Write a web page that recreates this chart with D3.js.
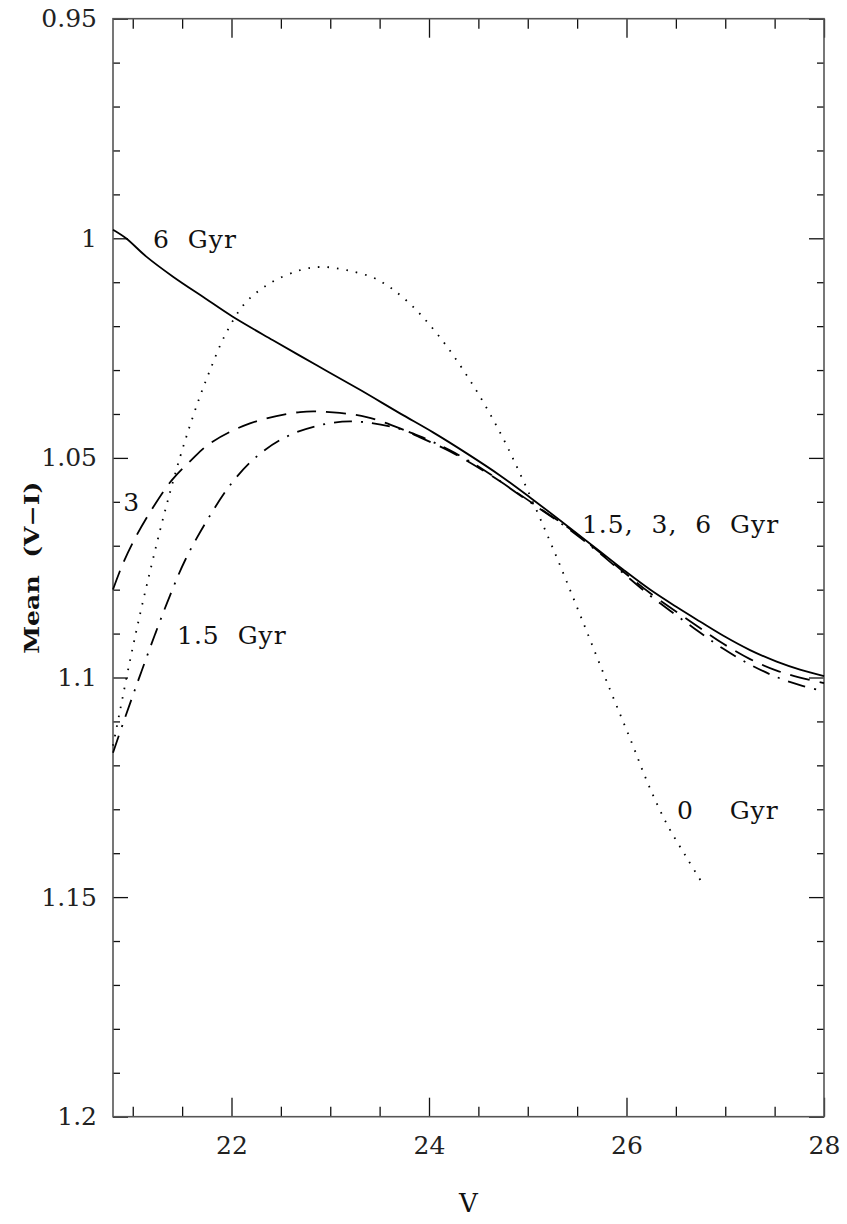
<!DOCTYPE html>
<html>
<head>
<meta charset="utf-8">
<script src="https://cdn.jsdelivr.net/npm/d3@7"></script>
<style>
  body { margin: 0; background: #fff; }
  text { font-family: "DejaVu Serif", serif; white-space: pre; }
</style>
</head>
<body>
<svg id="chart" width="847" height="1224"></svg>
<script>
// Mean (V-I) colour versus V magnitude for four population ages

// 0 Gyr (dotted)
const v0 = [20.8, 20.871, 20.972, 21.073, 21.175, 21.276, 21.377, 21.478, 21.58, 21.681, 21.782, 21.934, 22.137, 22.39, 22.694, 22.916,
            23.167, 23.47, 23.757, 24.078, 24.415, 24.719, 24.972, 25.256, 25.529, 25.833, 26.053, 26.218, 26.407, 26.61, 26.772];
const c0 = [1.11552, 1.10755, 1.09615, 1.08567, 1.07586, 1.06652, 1.05786, 1.04989, 1.04259, 1.03598, 1.03006, 1.02208, 1.01479, 1.01023, 1.00727, 1.00652,
            1.00727, 1.00932, 1.01388, 1.02163, 1.03234, 1.04419, 1.05604, 1.07063, 1.08567, 1.10276, 1.11484, 1.12418, 1.1333, 1.14104, 1.14697];

// 1.5 Gyr (dash-dot)
const v15 = [20.8, 20.922, 21.073, 21.225, 21.377, 21.529, 21.752, 22.015, 22.268, 22.542, 22.846, 23.2, 23.635, 23.909, 24.213, 24.547,
             24.888, 25.192, 25.394, 25.732, 25.965, 26.238, 26.508, 26.744, 26.977, 27.251, 27.521, 27.757, 28.0];
const c15 = [1.11712, 1.10914, 1.09957, 1.09022, 1.08134, 1.07336, 1.06424, 1.05536, 1.04943, 1.04533, 1.04282, 1.04168, 1.04298, 1.0451, 1.04829, 1.05262,
             1.05798, 1.06265, 1.06584, 1.07176, 1.07621, 1.08134, 1.08589, 1.08977, 1.09341, 1.09706, 1.09991, 1.10173, 1.1031];

// 3 Gyr (dashed)
const v3 = [20.8, 20.901, 21.033, 21.205, 21.394, 21.59, 21.782, 22.187, 22.694, 23.028, 23.369, 23.706, 23.909, 24.213, 24.547, 24.888,
            25.192, 25.394, 25.732, 25.965, 26.238, 26.508, 26.744, 26.977, 27.251, 27.521, 27.757, 28.0];
const c3 = [1.07997, 1.07404, 1.06789, 1.06128, 1.05513, 1.05057, 1.0467, 1.04214, 1.03956, 1.03963, 1.0407, 1.04328, 1.04533, 1.04852, 1.05285, 1.05786,
            1.06253, 1.06561, 1.07154, 1.07586, 1.08077, 1.0851, 1.08874, 1.09227, 1.09581, 1.09843, 1.10002, 1.10128];

// 6 Gyr (solid)
const v6 = [20.8, 20.932, 21.141, 21.408, 21.732, 22.005, 22.42, 22.863, 23.301, 23.706, 24.041, 24.382, 24.719, 25.023, 25.394,
            25.732, 25.965, 26.238, 26.508, 26.744, 26.977, 27.251, 27.521, 27.757, 28.0];
const c6 = [0.99804, 0.99998, 1.00424, 1.00875, 1.01365, 1.01775, 1.02322, 1.02892, 1.0345, 1.03986, 1.04419, 1.04897, 1.05399, 1.059, 1.06538,
            1.07131, 1.07541, 1.07997, 1.08396, 1.08726, 1.09045, 1.09376, 1.09638, 1.0982, 1.09968];

// axis ticks
const xMajorTicks = [22, 24, 26, 28];
const xTickLabels = ["22", "24", "26", "28"];
const xMinorTicks = [21, 21.5, 22.5, 23, 23.5, 24.5, 25, 25.5, 26.5, 27, 27.5];
const yMajorTicks = [0.95, 1.0, 1.05, 1.1, 1.15, 1.2];
const yTickLabels = ["0.95", "1", "1.05", "1.1", "1.15", "1.2"];
const yMinorTicks = [0.96, 0.97, 0.98, 0.99, 1.01, 1.02, 1.03, 1.04, 1.06, 1.07, 1.08, 1.09,
                     1.11, 1.12, 1.13, 1.14, 1.16, 1.17, 1.18, 1.19];

// curve annotations, anchored in data coordinates
const annotations = [
  { text: "6  Gyr", v: 21.205, c: 1.0023 },
  { text: "3", v: 20.905, c: 1.0622 },
  { text: "1.5  Gyr", v: 21.448, c: 1.0923 },
  { text: "1.5,  3,  6  Gyr", v: 25.549, c: 1.0672 },
  { text: "0    Gyr", v: 26.511, c: 1.1322 }
];

const svg = d3.select("#chart");
const frameLeft = 113, frameRight = 824, frameTop = 18.7, frameBottom = 1116.7;

const x = d3.scaleLinear().domain([20.8, 28]).range([frameLeft, frameRight]);
const y = d3.scaleLinear().domain([0.95, 1.2]).range([frameTop, frameBottom]);

function styleAxis(g) {
  g.select(".domain").remove();
  g.selectAll(".tick line").attr("stroke", "#111").attr("stroke-width", 1.3);
  g.selectAll(".tick text").attr("font-size", 25).attr("fill", "#222")
    .attr("font-family", "DejaVu Serif, serif");
}

// left axis
svg.append("g").attr("transform", `translate(${frameLeft},0)`)
  .call(d3.axisLeft(y).tickValues(yMajorTicks).tickFormat((d, i) => yTickLabels[i])
    .tickSizeInner(-15).tickSizeOuter(0).tickPadding(16))
  .call(styleAxis);
svg.append("g").attr("transform", `translate(${frameLeft},0)`)
  .call(d3.axisLeft(y).tickValues(yMinorTicks).tickFormat("").tickSizeInner(-7).tickSizeOuter(0))
  .call(styleAxis);

// right axis
svg.append("g").attr("transform", `translate(${frameRight},0)`)
  .call(d3.axisRight(y).tickValues(yMajorTicks).tickFormat("").tickSizeInner(-15).tickSizeOuter(0))
  .call(styleAxis);
svg.append("g").attr("transform", `translate(${frameRight},0)`)
  .call(d3.axisRight(y).tickValues(yMinorTicks).tickFormat("").tickSizeInner(-7).tickSizeOuter(0))
  .call(styleAxis);

// bottom axis
svg.append("g").attr("transform", `translate(0,${frameBottom})`)
  .call(d3.axisBottom(x).tickValues(xMajorTicks).tickFormat((d, i) => xTickLabels[i])
    .tickSizeInner(-19).tickSizeOuter(0).tickPadding(20))
  .call(styleAxis);
svg.append("g").attr("transform", `translate(0,${frameBottom})`)
  .call(d3.axisBottom(x).tickValues(xMinorTicks).tickFormat("").tickSizeInner(-10).tickSizeOuter(0))
  .call(styleAxis);

// top axis
svg.append("g").attr("transform", `translate(0,${frameTop})`)
  .call(d3.axisTop(x).tickValues(xMajorTicks).tickFormat("").tickSizeInner(-19).tickSizeOuter(0))
  .call(styleAxis);
svg.append("g").attr("transform", `translate(0,${frameTop})`)
  .call(d3.axisTop(x).tickValues(xMinorTicks).tickFormat("").tickSizeInner(-10).tickSizeOuter(0))
  .call(styleAxis);

// frame
svg.append("rect")
  .attr("x", frameLeft).attr("y", frameTop)
  .attr("width", frameRight - frameLeft).attr("height", frameBottom - frameTop)
  .attr("fill", "none").attr("stroke", "#555").attr("stroke-width", 1.6);

// curves
const line = d3.line()
  .x(d => x(d[0])).y(d => y(d[1]))
  .curve(d3.curveCatmullRom.alpha(0.5));

const series = [
  { v: v0, c: c0, dash: "1.6,8", width: 1.8 },
  { v: v15, c: c15, dash: "18,9,2,9", width: 1.8 },
  { v: v3, c: c3, dash: "20,10", width: 1.8 },
  { v: v6, c: c6, dash: null, width: 1.8 }
];

const plot = svg.append("g");
series.forEach(s => {
  plot.append("path")
    .datum(d3.zip(s.v, s.c))
    .attr("d", line)
    .attr("fill", "none")
    .attr("stroke", "#000")
    .attr("stroke-width", s.width)
    .attr("stroke-dasharray", s.dash);
});

// curve labels
svg.append("g").selectAll("text")
  .data(annotations)
  .join("text")
  .attr("x", d => x(d.v))
  .attr("y", d => y(d.c))
  .attr("font-size", 25)
  .attr("letter-spacing", 1)
  .attr("fill", "#111")
  .text(d => d.text);

// axis titles
svg.append("text")
  .attr("x", (frameLeft + frameRight) / 2)
  .attr("y", 1212)
  .attr("text-anchor", "middle")
  .attr("font-size", 26)
  .attr("fill", "#111")
  .text("V");

svg.append("text")
  .attr("transform", `translate(39,${(frameTop + frameBottom) / 2}) rotate(-90)`)
  .attr("text-anchor", "middle")
  .attr("font-size", 19.5)
  .attr("font-weight", "bold")
  .attr("textLength", 172)
  .attr("lengthAdjust", "spacingAndGlyphs")
  .attr("fill", "#111")
  .text("Mean  (V\u2212I)");
</script>
</body>
</html>
